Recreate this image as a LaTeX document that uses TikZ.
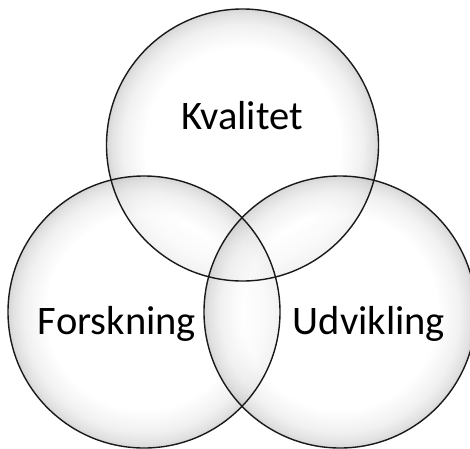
\documentclass[tikz,border=0pt]{standalone}
\usepackage{fontspec}
\setmainfont{Carlito}
\pgfdeclareradialshading{vennglow}{\pgfpoint{0bp}{0bp}}{%
  color(0bp)=(white);
  color(18bp)=(white);
  color(22bp)=(black!8);
  color(24bp)=(black!17);
  color(25bp)=(black!24);
  color(50bp)=(black!24)}
\tikzset{
  vennfill/.style={shading=vennglow, fill opacity=0.65},
  vennline/.style={draw=black!90, line width=1.4pt},
  vennlabel/.style={font=\fontsize{40.5}{44}\selectfont, anchor=base, text=black}
}
\begin{document}
\begin{tikzpicture}[x=1pt,y=-1pt]
\useasboundingbox[fill=white] (0,0) rectangle (470,448);
\coordinate (ct) at (242.5,145);
\coordinate (cl) at (144,312);
\coordinate (cr) at (340,312);
\shade[vennfill] (ct) circle[radius=136];
\shade[vennfill] (cl) circle[radius=136];
\shade[vennfill] (cr) circle[radius=136];
\draw[vennline] (ct) circle[radius=136];
\draw[vennline] (cl) circle[radius=136];
\draw[vennline] (cr) circle[radius=136];
\node[vennlabel] (kval) at (242,129) {Kvalitet};
\node[vennlabel] (forsk) at (117,334) {Forskning};
\node[vennlabel] (udv) at (369,334) {Udvikling};
\end{tikzpicture}
\end{document}
